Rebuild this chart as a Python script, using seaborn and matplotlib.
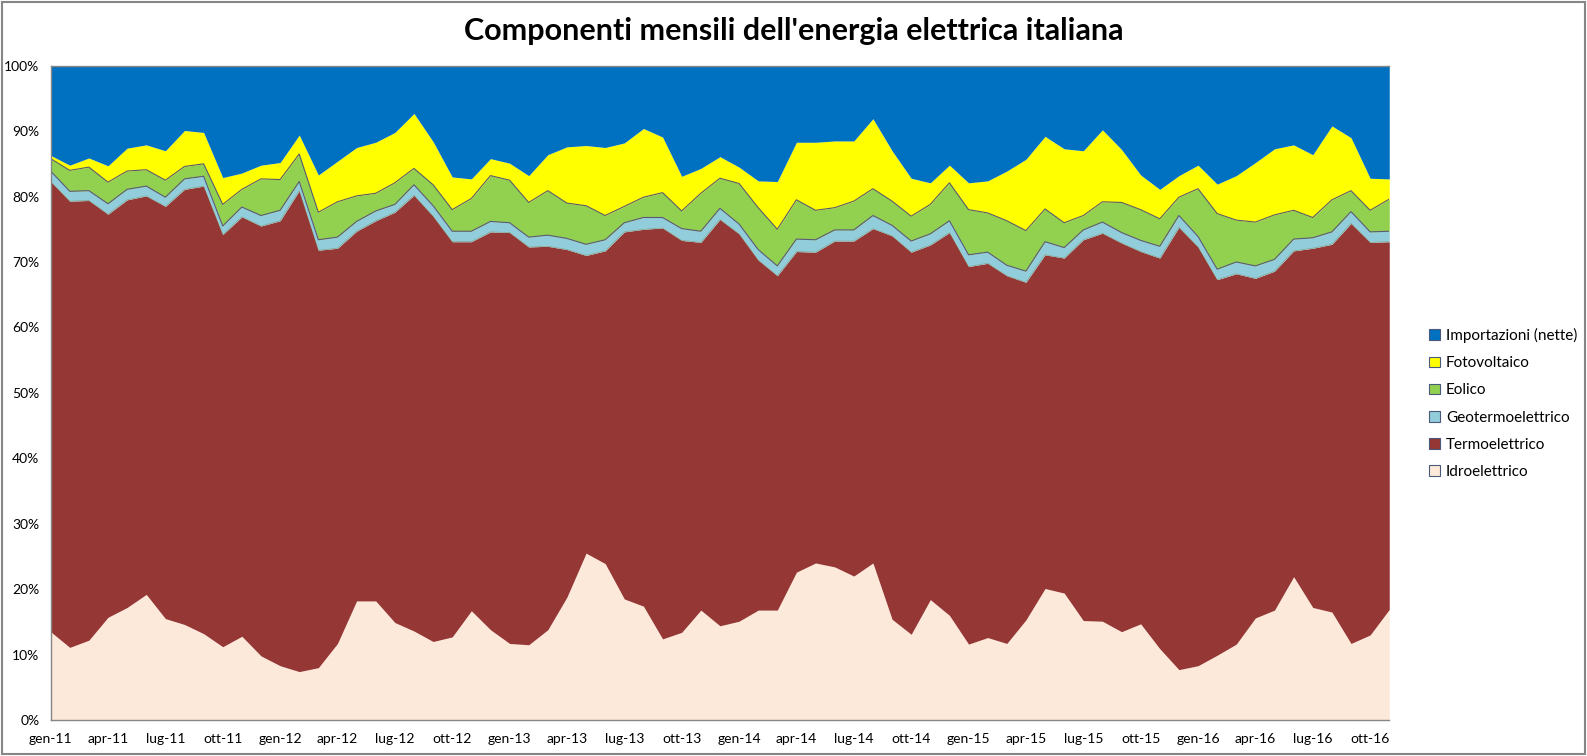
import numpy as np
import pandas as pd
import matplotlib
matplotlib.use("Agg")
import matplotlib.pyplot as plt
from matplotlib.patches import Rectangle
import seaborn as sns

# --- Data: upper edge of each layer (cumulative %), gen-11 .. nov-16 ---
mesi = ['gen', 'feb', 'mar', 'apr', 'mag', 'giu', 'lug', 'ago', 'set', 'ott', 'nov', 'dic']
categories = [f"{m}-{a}" for a in range(11, 17) for m in mesi][:71]

idro_top = [13.5, 11.1, 12.2, 15.7, 17.2, 19.2, 15.5, 14.6, 13.2, 11.2, 12.8, 9.8,
            8.3, 7.4, 8.0, 11.7, 18.2, 18.2, 14.9, 13.6, 12.0, 12.7, 16.7, 13.8,
            11.7, 11.5, 13.8, 18.8, 25.5, 23.9, 18.5, 17.4, 12.4, 13.4, 16.8, 14.4,
            15.1, 16.8, 16.8, 22.6, 24.0, 23.4, 22.0, 24.0, 15.4, 13.1, 18.4, 16.0,
            11.6, 12.6, 11.7, 15.3, 20.1, 19.4, 15.2, 15.1, 13.5, 14.7, 10.9, 7.7,
            8.3, 9.9, 11.6, 15.6, 16.8, 21.9, 17.2, 16.5, 11.7, 13.0, 16.9]
termo_top = [82.3, 79.3, 79.4, 77.3, 79.5, 80.1, 78.5, 81.1, 81.6, 74.2, 76.9, 75.5,
             76.3, 80.9, 71.8, 72.1, 74.7, 76.3, 77.6, 80.2, 77.0, 73.1, 73.1, 74.6,
             74.5, 72.3, 72.4, 71.9, 71.0, 71.7, 74.6, 75.0, 75.2, 73.3, 73.0, 76.5,
             74.3, 70.3, 67.9, 71.6, 71.5, 73.2, 73.2, 75.1, 74.0, 71.5, 72.6, 74.5,
             69.3, 69.8, 67.9, 66.9, 71.1, 70.6, 73.4, 74.4, 72.9, 71.6, 70.6, 75.3,
             72.3, 67.3, 68.2, 67.5, 68.6, 71.7, 72.1, 72.7, 75.9, 73.0, 73.1]
geo_top = [83.9, 80.8, 80.9, 78.9, 81.1, 81.6, 79.9, 82.7, 83.1, 75.5, 78.4, 77.1,
           77.9, 82.3, 73.4, 73.8, 76.2, 77.8, 78.8, 81.8, 78.6, 74.7, 74.7, 76.2,
           76.0, 73.8, 74.1, 73.6, 72.7, 73.4, 76.0, 76.8, 76.8, 75.1, 74.7, 78.2,
           75.8, 71.9, 69.4, 73.5, 73.4, 74.9, 74.9, 77.1, 75.6, 73.2, 74.3, 76.3,
           71.1, 71.5, 69.5, 68.6, 73.1, 72.2, 74.9, 76.1, 74.5, 73.3, 72.4, 77.1,
           73.9, 68.9, 70.0, 69.4, 70.4, 73.5, 73.7, 74.6, 77.7, 74.6, 74.7]
eol_top = [85.8, 84.0, 84.5, 82.2, 83.9, 84.1, 82.5, 84.6, 85.0, 78.8, 81.1, 82.7,
           82.6, 86.5, 77.6, 79.2, 80.1, 80.5, 82.1, 84.3, 81.8, 78.0, 79.7, 83.2,
           82.5, 79.1, 80.9, 79.0, 78.6, 77.1, 78.5, 79.9, 80.6, 77.8, 80.5, 82.8,
           82.0, 78.3, 75.0, 79.5, 77.9, 78.3, 79.3, 81.2, 79.3, 77.0, 78.8, 82.1,
           78.0, 77.5, 76.3, 74.8, 78.1, 76.0, 77.1, 79.2, 79.1, 78.0, 76.6, 79.9,
           81.2, 77.4, 76.4, 76.1, 77.2, 77.9, 76.8, 79.5, 80.9, 77.9, 79.6]
foto_top = [86.3, 84.8, 85.9, 84.7, 87.4, 87.9, 87.0, 90.1, 89.8, 82.9, 83.6, 84.8,
            85.2, 89.4, 83.3, 85.4, 87.5, 88.3, 89.8, 92.7, 88.4, 83.0, 82.7, 85.8,
            85.1, 83.2, 86.4, 87.6, 87.8, 87.5, 88.2, 90.4, 89.1, 83.1, 84.3, 86.1,
            84.5, 82.4, 82.3, 88.3, 88.3, 88.5, 88.5, 91.9, 87.0, 82.8, 82.1, 84.8,
            82.1, 82.4, 83.9, 85.7, 89.2, 87.3, 87.0, 90.2, 87.2, 83.3, 81.1, 83.2,
            84.8, 81.9, 83.2, 85.2, 87.3, 87.9, 86.4, 90.8, 89.0, 82.8, 82.7]

series = ['Idroelettrico', 'Termoelettrico', 'Geotermoelettrico',
          'Eolico', 'Fotovoltaico', 'Importazioni (nette)']
colors = ['#FDE9D9', '#953735', '#92CDDC', '#92D050', '#FFFF00', '#0070C0']

# shares of each component from the cumulative edges
levels = np.vstack([np.zeros(len(categories)), idro_top, termo_top, geo_top,
                    eol_top, foto_top, np.full(len(categories), 100.0)])
df = pd.DataFrame(np.diff(levels, axis=0).T, columns=series)
df['x'] = np.arange(len(categories))

sns.set_theme(style="white")
plt.rcParams['font.family'] = ['Lato', 'DejaVu Sans']
plt.rcParams['text.color'] = 'black'

fig = plt.figure(figsize=(15.87, 7.56), dpi=100)
ax = fig.add_axes([0.0319, 0.0476, 0.8435, 0.8655])

ax.stackplot(df['x'], [df[s] for s in series], colors=colors, linewidth=0)

# thin borders on top of geotermo and eolico layers
edges = pd.DataFrame({'x': df['x'], 'geo': geo_top, 'eol': eol_top, 'termo': termo_top})
sns.lineplot(data=edges, x='x', y='geo', ax=ax, color='#5A5A78', lw=0.8, legend=False)
sns.lineplot(data=edges, x='x', y='eol', ax=ax, color='#5A5A6A', lw=0.8, legend=False)
sns.lineplot(data=edges, x='x', y='termo', ax=ax, color='#7A8A5A', lw=0.5, alpha=0.6,
             legend=False)

ax.set_xlim(0, len(categories) - 1)
ax.set_ylim(0, 100)
ax.set_xticks(np.arange(0, len(categories), 3))
ax.set_xticklabels(categories[::3])
ax.set_yticks(np.arange(0, 101, 10))
ax.set_yticklabels([f"{v}%" for v in range(0, 101, 10)])
ax.tick_params(axis='both', length=0, labelsize=10, colors='black')
ax.tick_params(axis='x', pad=9)
ax.tick_params(axis='y', pad=8)
ax.set_xlabel('')
ax.set_ylabel('')
for side in ['left', 'bottom', 'top']:
    ax.spines[side].set_color('#868686')
    ax.spines[side].set_linewidth(1.0)
ax.spines['right'].set_visible(False)
if ax.get_legend() is not None:
    ax.get_legend().remove()

handles = [Rectangle((0, 0), 1, 1, facecolor=c, edgecolor='#4A5A7A', lw=0.8) for c in colors]
leg = fig.legend(handles[::-1], series[::-1], loc='upper left',
                 bbox_to_anchor=(1423 / 1587, 1 - 322 / 756), frameon=False,
                 fontsize=11, handlelength=0.7, handleheight=0.7,
                 handletextpad=0.4, labelspacing=0.86, borderaxespad=0,
                 labelcolor='black')

fig.suptitle("Componenti mensili dell'energia elettrica italiana",
             x=0.5, y=1 - 31 / 756, va='center', fontsize=22, fontweight='bold',
             color='black')

fig.patches.append(Rectangle((0.0015, 0.003), 0.997, 0.994, transform=fig.transFigure,
                             fill=False, edgecolor='#868686', lw=1.5))

fig.savefig('out.png', dpi=100)
